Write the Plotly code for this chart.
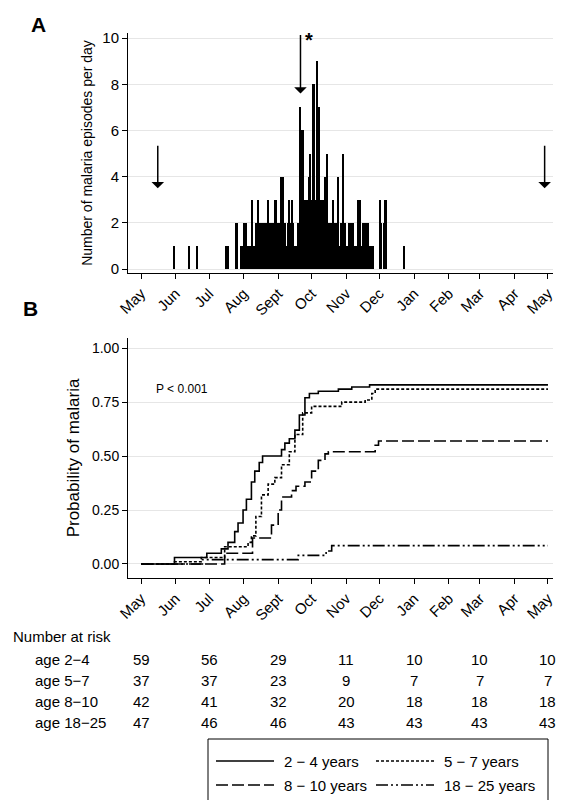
import plotly.graph_objects as go

# ---- Panel A data: daily malaria episodes (day 0 = 1 May) ----
ep_days = [30, 43, 50] + list(range(76, 221)) + [236]
ep_counts = [1, 1, 1] + [
    1, 1, 1, 0, 0, 0, 0, 0, 0, 2, 2, 0, 0, 0,          # 76-89
    1, 1, 2, 1, 2, 1, 1, 1, 1, 1,                      # 90-99
    3, 1, 1, 2, 2, 3, 2, 2, 2, 2,                      # 100-109
    2, 2, 2, 1, 3, 2, 2, 2, 2, 2,                      # 110-119
    3, 3, 1, 2, 2, 1, 4, 4, 2, 2,                      # 120-129
    1, 1, 2, 3, 2, 3, 2, 1, 0, 1,                      # 130-139
    1, 2, 2, 7, 6, 6, 3, 3, 2, 3,                      # 140-149
    3, 4, 5, 3, 8, 8, 3, 3, 9, 7,                      # 150-159
    7, 3, 3, 3, 3, 4, 4, 5, 2, 2,                      # 160-169
    2, 1, 3, 2, 2, 1, 2, 4, 1, 2,                      # 170-179
    1, 5, 2, 2, 1, 1, 1, 2, 2, 2,                      # 180-189
    2, 1, 1, 1, 1, 3, 3, 1, 1, 2,                      # 190-199
    2, 1, 2, 2, 2, 1, 1, 1, 1, 0,                      # 200-209
    0, 0, 0, 0, 3, 2, 0, 0, 2, 3, 3,                   # 210-220
] + [1]

month_days = [0, 31, 61, 92, 123, 153, 184, 214, 245, 276, 304, 335, 365]
month_labels = ["May", "Jun", "Jul", "Aug", "Sept", "Oct", "Nov", "Dec",
                "Jan", "Feb", "Mar", "Apr", "May"]

# ---- Panel B data: Kaplan-Meier curves ----
km_24_x = [0, 30, 59, 72, 78, 84, 87, 91.5, 94.5, 99, 102, 106, 109, 117, 126, 129, 133, 138, 142, 147, 151, 159, 177, 189, 205, 365]
km_24_y = [0, .03, .05, .07, .10, .15, .19, .25, .30, .38, .43, .47, .50, .50, .53, .56, .58, .62, .69, .77, .79, .80, .81, .82, .83, .83]
km_57_x = [0, 30, 54, 75, 96, 99, 103, 108, 114, 120, 126, 133, 138, 145, 153, 180, 201, 207, 210, 365]
km_57_y = [0, .01, .03, .08, .10, .13, .22, .32, .37, .40, .46, .52, .60, .70, .73, .75, .76, .79, .81, .81]
km_810_x = [0, 75, 100, 117, 123, 126, 135, 139, 147, 153, 159, 165, 168, 210, 213, 365]
km_810_y = [0, .05, .12, .18, .25, .31, .34, .36, .38, .43, .48, .51, .52, .55, .57, .57]
km_1825_x = [0, 55, 141, 166, 171, 365]
km_1825_y = [0, .02, .04, .06, .085, .085]

risk_days = [0, 61, 123, 184, 245, 304, 365]
risk_rows = ["age 2\u22124", "age 5\u22127", "age 8\u221210", "age 18\u221225"]
risk_vals = [[59, 56, 29, 11, 10, 10, 10],
             [37, 37, 23, 9, 7, 7, 7],
             [42, 41, 32, 20, 18, 18, 18],
             [47, 46, 46, 43, 43, 43, 43]]
legend_names = ["2 \u2212 4 years", "5 \u2212 7 years", "8 \u2212 10 years", "18 \u2212 25 years"]

W, H = 571, 800
FONT = "Liberation Sans, Arial, sans-serif"
dashes = ["solid", "3px,2px", "12px,4px", "12px,3px,2px,3px,2px,3px"]

fig = go.Figure()
fig.add_trace(go.Bar(x=ep_days, y=ep_counts, width=1.0, marker=dict(color="black", line=dict(width=0)),
                     xaxis="x", yaxis="y", showlegend=False))
for xs, ys, d in [(km_24_x, km_24_y, dashes[0]), (km_57_x, km_57_y, dashes[1]),
                  (km_810_x, km_810_y, dashes[2]), (km_1825_x, km_1825_y, dashes[3])]:
    fig.add_trace(go.Scatter(x=xs, y=ys, mode="lines", line=dict(color="black", width=1.6, dash=d, shape="hv"),
                             xaxis="x2", yaxis="y2", showlegend=False))

xd = [120 / W, 545 / W]
xr = [-11.7, 369.5]
common_x = dict(range=xr, domain=xd, tickvals=month_days, ticktext=month_labels, tickangle=-45,
                ticks="outside", ticklen=5, tickcolor="black", showline=True, linecolor="black",
                showgrid=False, zeroline=False, tickfont=dict(size=15, color="black"), automargin=False)
fig.update_layout(
    width=W, height=H, margin=dict(l=0, r=0, t=0, b=0),
    paper_bgcolor="white", plot_bgcolor="white", font=dict(family=FONT, color="black"),
    xaxis=dict(anchor="y", **common_x),
    yaxis=dict(domain=[1 - 265 / H, 1 - 25 / H], range=[-0.17, 10.22], tickvals=[0, 2, 4, 6, 8, 10],
               ticks="outside", ticklen=5, tickcolor="black", showline=True, linecolor="black",
               gridcolor="#e6e6e6", zeroline=False, tickfont=dict(size=15), automargin=False,
               title=dict(text="Number of malaria episodes per day", font=dict(size=14), standoff=6)),
    xaxis2=dict(anchor="y2", **common_x),
    yaxis2=dict(domain=[1 - 570 / H, 1 - 330 / H], range=[-0.065, 1.047], tickvals=[0, .25, .5, .75, 1],
                ticktext=["0.00", "0.25", "0.50", "0.75", "1.00"],
                ticks="outside", ticklen=5, tickcolor="black", showline=True, linecolor="black",
                gridcolor="#e6e6e6", zeroline=False, tickfont=dict(size=14), automargin=False,
                title=dict(text="Probability of malaria", font=dict(size=17), standoff=8)),
)

ann = []
def px(xp, yp):
    return dict(xref="paper", yref="paper", x=xp / W, y=1 - yp / H)

ann.append(dict(text="<b>A</b>", showarrow=False, font=dict(size=21), xanchor="center", yanchor="middle", **px(30, 16)))
ann.append(dict(text="<b>B</b>", showarrow=False, font=dict(size=21), xanchor="center", yanchor="middle", **px(22, 300)))
for ax_, y0, y1 in [(15, 5.4, 3.5), (143, 10.2, 7.6), (362, 5.4, 3.5)]:
    ann.append(dict(x=ax_, y=y1, ax=ax_, ay=y0, xref="x", yref="y", axref="x", ayref="y", text="",
                    showarrow=True, arrowhead=1, arrowsize=1.4, arrowwidth=1.5, arrowcolor="black"))
ann.append(dict(x=151, y=9.9, xref="x", yref="y", text="<b>*</b>", showarrow=False, font=dict(size=20)))
ann.append(dict(text="P < 0.001", showarrow=False, font=dict(size=12), xanchor="left", yanchor="middle", **px(146, 381)))
ann.append(dict(text="Number at risk", showarrow=False, font=dict(size=15), xanchor="left", yanchor="middle", **px(3, 628)))
row_y = [651, 672, 693, 714]
for i, name in enumerate(risk_rows):
    ann.append(dict(text=name, showarrow=False, font=dict(size=15), xanchor="left", yanchor="middle", **px(25, row_y[i])))
    for d, v in zip(risk_days, risk_vals[i]):
        ann.append(dict(x=d, xref="x2", y=1 - row_y[i] / H, yref="paper", text=str(v), showarrow=False,
                        font=dict(size=15), xanchor="center", yanchor="middle"))

shapes = [dict(type="rect", xref="paper", yref="paper", x0=200 / W, x1=540 / W, y0=1 - 796 / H, y1=1 - 731 / H,
               line=dict(color="black", width=1))]
leg_pos = [(208, 753), (368, 753), (208, 777), (368, 777)]
for (lx, ly), d, name in zip(leg_pos, dashes, legend_names):
    shapes.append(dict(type="line", xref="paper", yref="paper", x0=lx / W, x1=(lx + 58) / W,
                       y0=1 - ly / H, y1=1 - ly / H, line=dict(color="black", width=1.6, dash=d)))
    ann.append(dict(text=name, showarrow=False, font=dict(size=15), xanchor="left", yanchor="middle", **px(lx + 66, ly)))

fig.update_layout(annotations=ann, shapes=shapes, bargap=0)
fig.write_html("out.html")
